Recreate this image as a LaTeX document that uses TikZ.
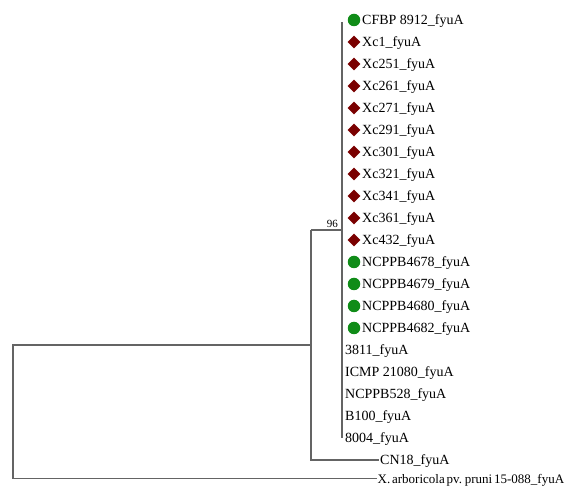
\documentclass[tikz,border=0pt]{standalone}
\usepackage{fontspec}
\setmainfont{Liberation Serif}
\usetikzlibrary{shapes.geometric,positioning,calc}
\definecolor{dotgreen}{RGB}{16,140,24}
\definecolor{diared}{RGB}{122,0,0}
\definecolor{branchgray}{RGB}{100,100,100}

\begin{document}
\begin{tikzpicture}[
    x=1pt, y=-1pt,
    leaf/.style={anchor=west, inner sep=1pt, font=\fontsize{14}{16}\selectfont, text height=9.5pt, text depth=0.4pt},
    dot/.style={circle, fill=dotgreen, minimum size=12.5pt, inner sep=0pt},
    gem/.style={diamond, fill=diared, minimum size=13pt, inner sep=0pt},
    branch/.style={draw=branchgray, line width=1.2pt},
    boot/.style={font=\fontsize{11}{13}\selectfont, inner sep=1pt}
]
    \useasboundingbox (0,0) rectangle (579,486);

    % Markers
    \node [dot] (m1)  at (354,20)  {};
    \node [gem] (m2)  at (354,42)  {};
    \node [gem] (m3)  at (354,64)  {};
    \node [gem] (m4)  at (354,86)  {};
    \node [gem] (m5)  at (354,108) {};
    \node [gem] (m6)  at (354,130) {};
    \node [gem] (m7)  at (354,152) {};
    \node [gem] (m8)  at (354,174) {};
    \node [gem] (m9)  at (354,196) {};
    \node [gem] (m10) at (354,218) {};
    \node [gem] (m11) at (354,240) {};
    \node [dot] (m12) at (354,262) {};
    \node [dot] (m13) at (354,284) {};
    \node [dot] (m14) at (354,306) {};
    \node [dot] (m15) at (354,328) {};

    % Leaf labels
    \node [leaf] (cfbp)  at (361,20)  {CFBP 8912\_fyuA};
    \node [leaf] (xc1)   at (361,42)  {Xc1\_fyuA};
    \node [leaf] (xc251) at (361,64)  {Xc251\_fyuA};
    \node [leaf] (xc261) at (361,86)  {Xc261\_fyuA};
    \node [leaf] (xc271) at (361,108) {Xc271\_fyuA};
    \node [leaf] (xc291) at (361,130) {Xc291\_fyuA};
    \node [leaf] (xc301) at (361,152) {Xc301\_fyuA};
    \node [leaf] (xc321) at (361,174) {Xc321\_fyuA};
    \node [leaf] (xc341) at (361,196) {Xc341\_fyuA};
    \node [leaf] (xc361) at (361,218) {Xc361\_fyuA};
    \node [leaf] (xc432) at (361,240) {Xc432\_fyuA};
    \node [leaf] (nc4678) at (361,262) {NCPPB4678\_fyuA};
    \node [leaf] (nc4679) at (361,284) {NCPPB4679\_fyuA};
    \node [leaf] (nc4680) at (361,306) {NCPPB4680\_fyuA};
    \node [leaf] (nc4682) at (361,328) {NCPPB4682\_fyuA};
    \node [leaf] (s3811)  at (344,350) {3811\_fyuA};
    \node [leaf] (icmp)   at (344,372) {ICMP 21080\_fyuA};
    \node [leaf] (nc528)  at (344,394) {NCPPB528\_fyuA};
    \node [leaf] (b100)   at (344,416) {B100\_fyuA};
    \node [leaf] (s8004)  at (344,438) {8004\_fyuA};
    \node [leaf] (cn18)   at (379,460) {CN18\_fyuA};
    \node [leaf, inner xsep=0.5pt, font=\fontsize{13}{15}\selectfont] (xarb) at (377,478.5)
        {\spaceskip=1.8pt X. arboricola pv. pruni 15-088\_fyuA};

    % Internal nodes
    \coordinate (top) at (342,22);
    \coordinate (bottom) at (342,438);
    \coordinate (n96) at (311,230);
    \coordinate (root) at (13,345);
    \node [boot, anchor=south east] (bs96) at ($(n96 -| top)+(-3,-1)$) {96};

    % Branches
    \draw [branch] (top) -- (bottom);
    \draw [branch] (n96) -- (n96 -| top);
    \draw [branch] (n96) |- (cn18.west);
    \draw [branch] (root -| n96) -- (root) |- (xarb.west);

\end{tikzpicture}
\end{document}
